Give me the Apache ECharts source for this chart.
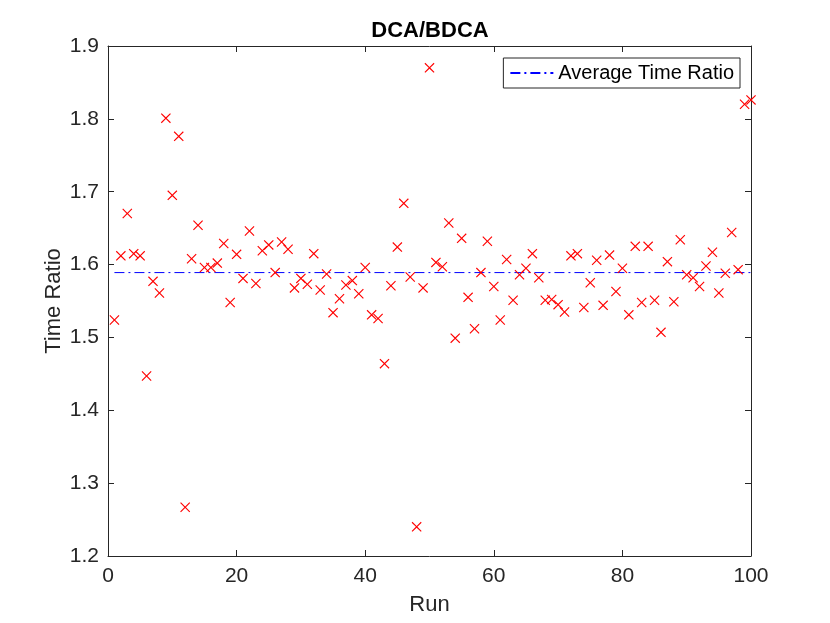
<!DOCTYPE html>
<html>
<head>
<meta charset="utf-8">
<script src="https://cdn.jsdelivr.net/npm/echarts@6/dist/echarts.min.js"></script>
<style>html,body{margin:0;padding:0;background:#fff;}#c{width:830px;height:623px;}</style>
</head>
<body>
<div id="c"></div>
<script>
const titleText = 'DCA/BDCA';
const xName = 'Run';
const yName = 'Time Ratio';
const legendName = 'Average Time Ratio';
const xTicks = [0, 20, 40, 60, 80, 100];
const yTicks = [1.2, 1.3, 1.4, 1.5, 1.6, 1.7, 1.8, 1.9];
const runs = [1,2,3,4,5,6,7,8,9,10,11,12,13,14,15,16,17,18,19,20,21,22,23,24,25,26,27,28,29,30,31,32,33,34,35,36,37,38,39,40,41,42,43,44,45,46,47,48,49,50,51,52,53,54,55,56,57,58,59,60,61,62,63,64,65,66,67,68,69,70,71,72,73,74,75,76,77,78,79,80,81,82,83,84,85,86,87,88,89,90,91,92,93,94,95,96,97,98,99,100];
const ratios = [1.524,1.612,1.670,1.615,1.612,1.447,1.577,1.561,1.801,1.695,
  1.776,1.267,1.608,1.654,1.596,1.596,1.602,1.629,1.548,1.614,
  1.581,1.646,1.574,1.619,1.627,1.589,1.631,1.621,1.568,1.581,
  1.573,1.615,1.565,1.587,1.534,1.553,1.572,1.578,1.560,1.596,
  1.531,1.526,1.464,1.571,1.624,1.684,1.583,1.240,1.568,1.870,
  1.603,1.597,1.657,1.499,1.636,1.555,1.512,1.589,1.632,1.570,
  1.524,1.607,1.551,1.586,1.595,1.615,1.582,1.551,1.552,1.545,
  1.535,1.612,1.615,1.541,1.575,1.606,1.544,1.613,1.563,1.595,
  1.531,1.625,1.548,1.625,1.551,1.507,1.604,1.549,1.634,1.586,
  1.582,1.570,1.598,1.617,1.561,1.588,1.644,1.593,1.820,1.826];
const averageRatio = 1.589;
const avgRange = [1, 100];

const axisColor = '#262626';
const font = 'Liberation Sans, Arial, Helvetica, sans-serif';
const crossPath = 'path://M0,0.8L0.8,0L5,4.2L9.2,0L10,0.8L5.8,5L10,9.2L9.2,10L5,5.8L0.8,10L0,9.2L4.2,5Z';

const chart = echarts.init(document.getElementById('c'), null, {renderer: 'canvas'});
const scatterData = runs.map((r, i) => [r, ratios[i]]);
const avgData = avgRange.map(x => [x, averageRatio]);

const baseX = {
  type: 'value', min: xTicks[0], max: xTicks[xTicks.length - 1], interval: 20,
  splitLine: {show: false},
  axisLine: {show: true, onZero: false, lineStyle: {color: axisColor, width: 1}},
  axisTick: {show: true, inside: true, length: 6, lineStyle: {color: axisColor}}
};
const baseY = {
  type: 'value', min: yTicks[0], max: yTicks[yTicks.length - 1], interval: 0.1,
  splitLine: {show: false},
  axisLine: {show: true, onZero: false, lineStyle: {color: axisColor, width: 1}},
  axisTick: {show: true, inside: true, length: 6, lineStyle: {color: axisColor}}
};

chart.setOption({
  backgroundColor: '#ffffff',
  animation: false,
  textStyle: {fontFamily: font},
  title: {
    text: titleText, left: 425, top: 15, textAlign: 'center',
    textStyle: {fontFamily: font, fontWeight: 'bold', fontSize: 22, color: '#000'}
  },
  grid: {left: 108, right: 79, top: 46, bottom: 67, containLabel: false},
  legend: {
    right: 90, top: 58,
    data: [legendName],
    orient: 'vertical',
    itemWidth: 43, itemHeight: 14, itemGap: 0,
    padding: [5, 6, 5, 6],
    borderColor: axisColor, borderWidth: 1, borderRadius: 0,
    backgroundColor: '#fff',
    itemStyle: {opacity: 0},
    textStyle: {fontFamily: font, fontSize: 20, color: '#000'}
  },
  xAxis: [
    Object.assign({}, baseX, {
      position: 'bottom',
      name: xName, nameLocation: 'middle', nameGap: 38, nameMoveOverlap: false,
      nameTextStyle: {fontFamily: font, fontSize: 22, color: axisColor},
      axisLabel: {show: true, fontFamily: font, fontSize: 21, color: axisColor, margin: 10,
        formatter: v => xTicks.includes(v) ? String(v) : ''}
    }),
    Object.assign({}, baseX, {position: 'top', axisLabel: {show: false}})
  ],
  yAxis: [
    Object.assign({}, baseY, {
      position: 'left',
      name: yName, nameLocation: 'middle', nameGap: 43, nameRotate: 90, nameMoveOverlap: false,
      nameTextStyle: {fontFamily: font, fontSize: 22, color: axisColor},
      axisLabel: {show: true, fontFamily: font, fontSize: 21, color: axisColor, margin: 9,
        formatter: v => v.toFixed(1)}
    }),
    Object.assign({}, baseY, {position: 'right', axisLabel: {show: false}})
  ],
  series: [
    {
      name: 'Time Ratio',
      type: 'scatter',
      xAxisIndex: 0, yAxisIndex: 0,
      data: scatterData,
      symbol: crossPath,
      symbolSize: 10,
      itemStyle: {color: '#ff0000', borderWidth: 0, opacity: 1},
      emphasis: {disabled: true},
      z: 3
    },
    {
      name: legendName,
      type: 'line',
      xAxisIndex: 0, yAxisIndex: 0,
      data: avgData,
      symbol: 'none',
      lineStyle: {color: '#0000ff', width: 1, type: [10, 4, 2, 4]},
      itemStyle: {color: '#0000ff'},
      emphasis: {disabled: true},
      z: 2
    }
  ]
});
</script>
</body>
</html>
